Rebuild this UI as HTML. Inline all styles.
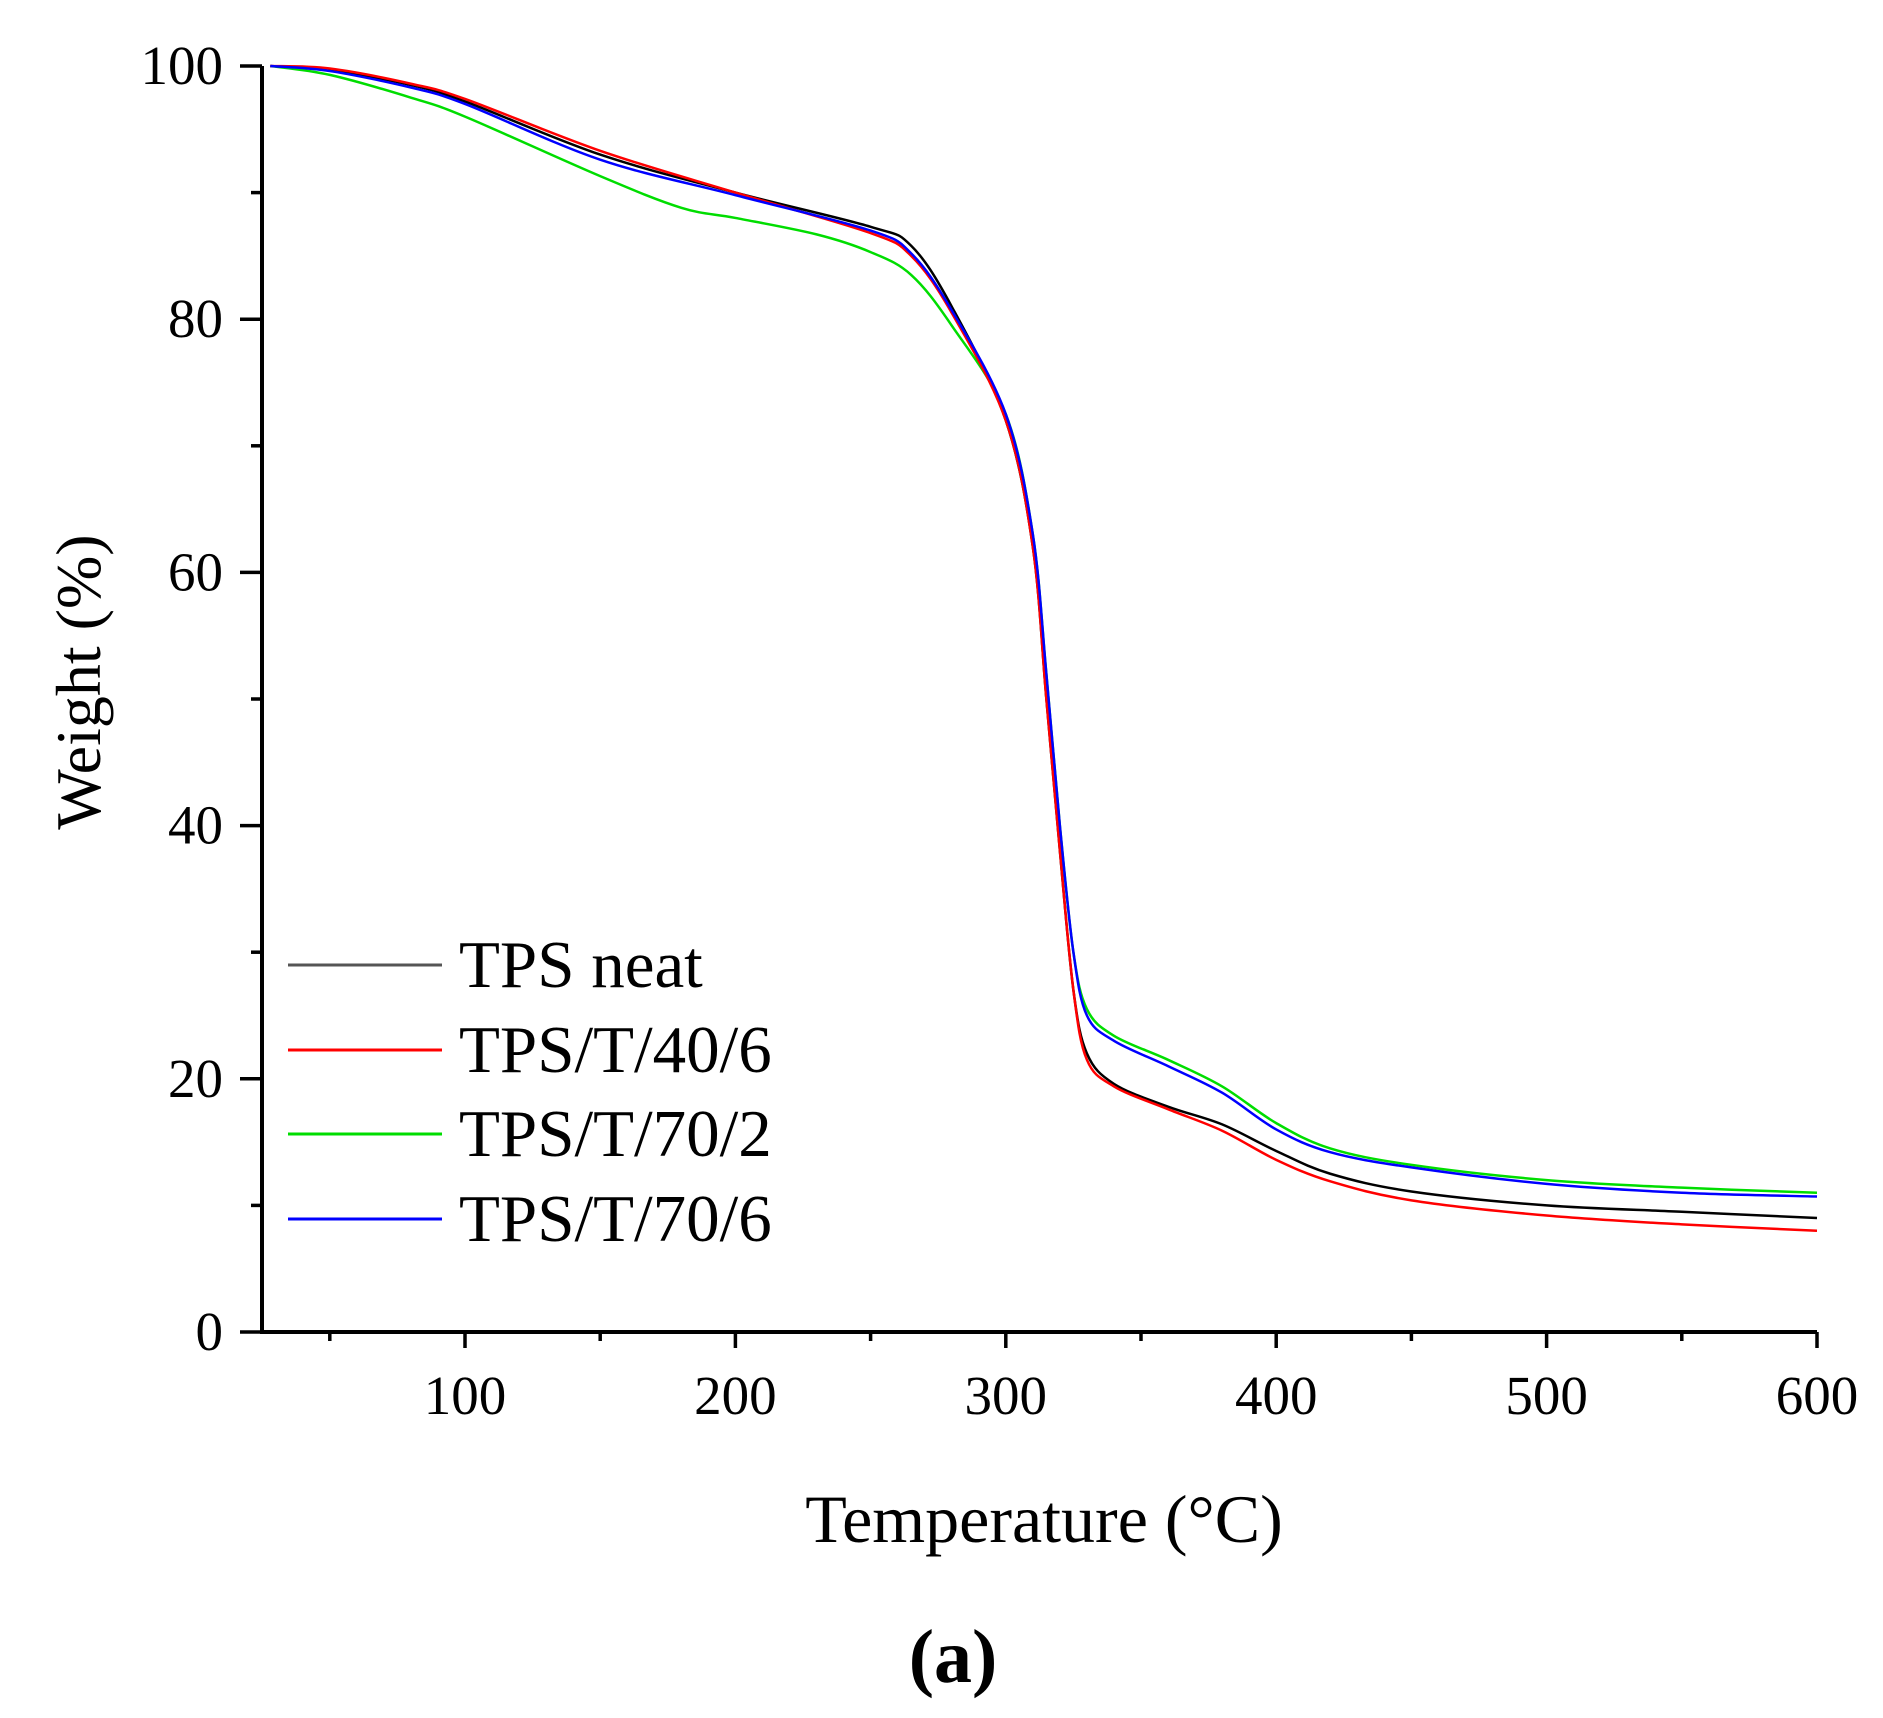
<!DOCTYPE html>
<html><head><meta charset="utf-8"><style>
html,body{margin:0;padding:0;background:#fff;}
svg{display:block;}
text{font-family:"Liberation Serif",serif;fill:#000;}
</style></head><body>
<svg id="s" width="1883" height="1718" viewBox="0 0 1883 1718" xmlns="http://www.w3.org/2000/svg">
<g id="curves" fill="none" stroke-width="2.5"></g>
<g stroke="#000" stroke-width="4" fill="none">
<path d="M262,66 L262,1332 L1817,1332"/>
</g>
<g id="ticks" stroke="#000" stroke-width="3.5"></g>
<g id="labels" font-size="55"></g>
<text x="1044" y="1542" font-size="68" text-anchor="middle">Temperature (°C)</text>
<text transform="translate(100,682) rotate(-90)" font-size="64" text-anchor="middle">Weight (%)</text>
<text x="953" y="1682" font-size="76" font-weight="bold" text-anchor="middle">(a)</text>
<g stroke-width="3">
<line x1="288" y1="965" x2="442" y2="965" stroke="#555"/>
<line x1="288" y1="1050" x2="442" y2="1050" stroke="#f00"/>
<line x1="288" y1="1134" x2="442" y2="1134" stroke="#0d0"/>
<line x1="288" y1="1219" x2="442" y2="1219" stroke="#00f"/>
</g>
<g font-size="67">
<text x="459" y="987">TPS neat</text>
<text x="459" y="1072">TPS/T/40/6</text>
<text x="459" y="1156">TPS/T/70/2</text>
<text x="459" y="1241">TPS/T/70/6</text>
</g>
</svg>
<script>
var NS="http://www.w3.org/2000/svg";
function X(t){return 465+(t-100)*2.704;}
function Y(w){return 1332-w*12.66;}
var ticks=document.getElementById('ticks'),labels=document.getElementById('labels');
function el(p,tag,a,txt){var e=document.createElementNS(NS,tag);for(var k in a)e.setAttribute(k,a[k]);if(txt!==undefined)e.textContent=txt;p.appendChild(e);}
for(var t=50;t<=600;t+=50){var maj=t%100==0;el(ticks,'line',{x1:X(t),y1:1332,x2:X(t),y2:1332+(maj?16:9)});
 if(maj)el(labels,'text',{x:X(t),y:1414,'text-anchor':'middle'},String(t));}
for(var w=0;w<=100;w+=10){var maj=w%20==0;el(ticks,'line',{x1:262,y1:Y(w),x2:262-(maj?22:11),y2:Y(w)});
 if(maj)el(labels,'text',{x:223,y:Y(w)+18,'text-anchor':'end'},String(w));}
var D={
"#000":[[28,100],[50,99.7],[80,98.5],[100,97.2],[150,93],[200,90],[250,87.3],[265,85.8],[280,81],[300,72],[310,62],[315,50],[320,38],[325,27],[330,22],[340,19.6],[360,17.8],[380,16.4],[400,14.3],[420,12.5],[450,11.1],[500,10],[550,9.5],[600,9]],
"#f00":[[28,100],[50,99.8],[80,98.6],[100,97.4],[150,93.3],[200,90],[250,86.8],[265,85],[280,80.5],[300,72],[310,62],[315,50],[320,38],[325,27],[330,21.5],[340,19.4],[360,17.6],[380,15.9],[400,13.6],[420,11.9],[450,10.4],[500,9.2],[550,8.5],[600,8]],
"#0d0":[[28,100],[50,99.3],[80,97.5],[100,96],[150,91.3],[180,88.8],[200,88],[230,86.7],[250,85.3],[265,83.5],[280,79.5],[300,72.5],[310,63],[315,52],[320,40],[325,30],[330,25.5],[340,23.4],[360,21.5],[380,19.4],[400,16.5],[420,14.5],[450,13.2],[500,12],[550,11.4],[600,11]],
"#00f":[[28,100],[50,99.6],[80,98.3],[100,97],[150,92.6],[200,89.8],[250,87],[265,85.2],[280,80.7],[300,72.5],[310,63],[315,52],[320,40],[325,30],[330,25],[340,23],[360,21],[380,18.9],[400,16],[420,14.2],[450,13],[500,11.7],[550,11],[600,10.7]]};
var g=document.getElementById('curves');
["#0d0","#000","#f00","#00f"].forEach(function(c){var p=D[c].map(function(q){return [X(q[0]),Y(q[1])];});
 var d="M"+p[0][0]+","+p[0][1];
 for(var i=0;i<p.length-1;i++){var p0=p[Math.max(0,i-1)],p1=p[i],p2=p[i+1],p3=p[Math.min(p.length-1,i+2)];
  d+=" C"+(p1[0]+(p2[0]-p0[0])/6)+","+(p1[1]+(p2[1]-p0[1])/6)+" "+(p2[0]-(p3[0]-p1[0])/6)+","+(p2[1]-(p3[1]-p1[1])/6)+" "+p2[0]+","+p2[1];}
 el(g,'path',{d:d,stroke:c});});
</script>
</body></html>
